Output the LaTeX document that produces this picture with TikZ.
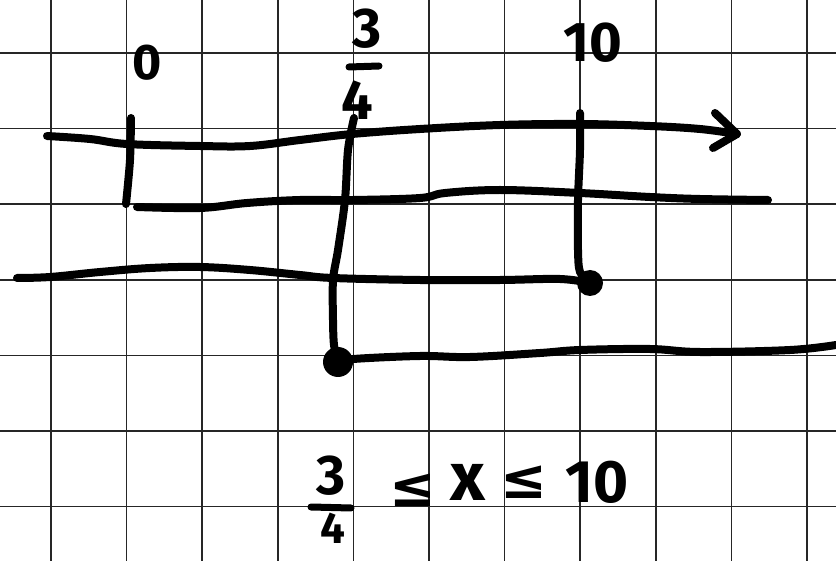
\documentclass[tikz,border=0pt]{standalone}
\usepackage{fontspec}
\setmainfont{Fira Sans}
\newfontfamily\symfont{DejaVu Sans}
\begin{document}
\begin{tikzpicture}[x=1pt,y=-1pt,
  gridline/.style={line width=1.6pt,draw=black!85},
  ink/.style={line width=8pt,line cap=round,line join=round,draw=black},
  inkdot/.style={circle,fill=black,inner sep=0pt},
  lbl/.style={inner sep=0pt,anchor=center,font=\bfseries\fontsize{56}{56}\selectfont},
  lblb/.style={inner sep=0pt,anchor=center,font=\bfseries\fontsize{60}{60}\selectfont},
  sym/.style={inner sep=0pt,anchor=center,font=\symfont\bfseries\fontsize{56}{56}\selectfont}]
\useasboundingbox (0,0) rectangle (836,561);
% grid
\foreach \i in {0,...,10} {\draw[gridline] ({51+75.6*\i},0) -- ({51+75.6*\i},561);}
\foreach \j in {0,...,6} {\draw[gridline] (0,{53+75.6*\j}) -- (836,{53+75.6*\j});}
% key points
\coordinate (arrowtip) at (737,134);
\coordinate (dotten) at (590,283);
\coordinate (dotq) at (338,362);
% line 1 with arrow
\draw[ink] plot[smooth,tension=0.6] coordinates {(47,136) (90,139) (127,144) (200,146) (250,146) (300,140) (352,134) (420,129) (500,125) (580,124) (650,126) (700,129) (arrowtip)};
\draw[ink] (715,113) -- (arrowtip) -- (713,148);
% tick at 0
\draw[ink] plot[smooth] coordinates {(131,118) (130,160) (126,204)};
% line 2
\draw[ink] plot[smooth,tension=0.6] coordinates {(137,207) (200,208) (247,203) (300,200) (353,200) (420,198) (445,193) (500,190) (580,193) (650,197) (700,199) (768,200)};
% line 3
\draw[ink] plot[smooth,tension=0.6] coordinates {(17,278) (50,277) (100,272) (150,268) (200,267) (250,270) (300,275) (333,278) (420,280) (500,280) (560,279) (dotten)};
% vertical at 10
\draw[ink] plot[smooth] coordinates {(580,113) (580,150) (578,200) (578,250) (580,272) (dotten)};
\node[inkdot,minimum size=26pt] (d10) at (dotten) {};
% vertical at 3/4
\draw[ink] plot[smooth] coordinates {(354,118) (348,150) (345,200) (338,250) (333,280) (333,320) (334,345) (dotq)};
\node[inkdot,minimum size=30pt] (dq) at (dotq) {};
% line 4
\draw[ink] plot[smooth,tension=0.6] coordinates {(dotq) (353,359) (420,356) (470,357) (540,353) (580,350) (650,349) (700,352) (790,350) (836,345)};
% top labels
\node[lbl,font=\bfseries\fontsize{50}{50}\selectfont] (l0) at (147,63) {0};
\node[lbl] (t3) at (367,29) {3};
\draw[line width=7pt,line cap=round] (349,67) -- (379,66);
\node[lbl] (t4) at (357,100) {4};
\node[lbl] (t10) at (593,43) {10};
% bottom inequality
\node[lblb,font=\bfseries\fontsize{56}{56}\selectfont] (b3) at (331,476) {3};
\draw[line width=7pt,line cap=round] (311,507) -- (351,508);
\node[lblb,font=\bfseries\fontsize{44}{44}\selectfont] (b4) at (333,528) {4};
\node[sym] (le1) at (413,490) {≤};
\node[lblb,font=\bfseries\fontsize{68}{68}\selectfont] (x) at (468,482) {x};
\node[sym] (le2) at (524,482) {≤};
\node[lblb] (b10) at (597,482) {10};
\end{tikzpicture}
\end{document}
